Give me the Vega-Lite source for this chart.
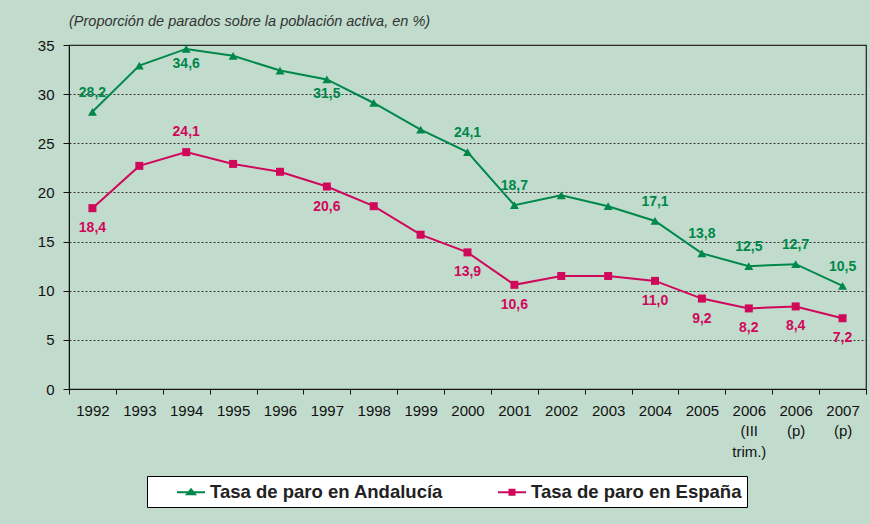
{
  "$schema": "https://vega.github.io/schema/vega-lite/v6.json",
  "width": 797,
  "height": 344,
  "autosize": {"type": "none"},
  "padding": {"left": 69, "top": 45, "right": 4, "bottom": 135},
  "background": "#c1dccd",
  "config": {
    "locale": {"number": {"decimal": ",", "thousands": ".", "grouping": [3], "currency": ["", " €"]}},
    "font": "Liberation Sans",
    "view": {"stroke": "#222", "strokeWidth": 1.2}
  },
  "title": {
    "text": "(Proporción de parados sobre la población activa, en %)",
    "anchor": "start",
    "frame": "group",
    "fontStyle": "italic",
    "fontWeight": "normal",
    "fontSize": 14.5,
    "color": "#333",
    "offset": 9
  },
  "datasets": {
    "paro": [
      {"periodo": "1992", "serie": "Tasa de paro en Andalucía", "tasa": 28.2},
      {"periodo": "1993", "serie": "Tasa de paro en Andalucía", "tasa": 32.9},
      {"periodo": "1994", "serie": "Tasa de paro en Andalucía", "tasa": 34.6},
      {"periodo": "1995", "serie": "Tasa de paro en Andalucía", "tasa": 33.9},
      {"periodo": "1996", "serie": "Tasa de paro en Andalucía", "tasa": 32.4},
      {"periodo": "1997", "serie": "Tasa de paro en Andalucía", "tasa": 31.5},
      {"periodo": "1998", "serie": "Tasa de paro en Andalucía", "tasa": 29.1},
      {"periodo": "1999", "serie": "Tasa de paro en Andalucía", "tasa": 26.4},
      {"periodo": "2000", "serie": "Tasa de paro en Andalucía", "tasa": 24.1},
      {"periodo": "2001", "serie": "Tasa de paro en Andalucía", "tasa": 18.7},
      {"periodo": "2002", "serie": "Tasa de paro en Andalucía", "tasa": 19.7},
      {"periodo": "2003", "serie": "Tasa de paro en Andalucía", "tasa": 18.6},
      {"periodo": "2004", "serie": "Tasa de paro en Andalucía", "tasa": 17.1},
      {"periodo": "2005", "serie": "Tasa de paro en Andalucía", "tasa": 13.8},
      {"periodo": "2006 (III trim.)", "serie": "Tasa de paro en Andalucía", "tasa": 12.5},
      {"periodo": "2006 (p)", "serie": "Tasa de paro en Andalucía", "tasa": 12.7},
      {"periodo": "2007 (p)", "serie": "Tasa de paro en Andalucía", "tasa": 10.5},
      {"periodo": "1992", "serie": "Tasa de paro en España", "tasa": 18.4},
      {"periodo": "1993", "serie": "Tasa de paro en España", "tasa": 22.7},
      {"periodo": "1994", "serie": "Tasa de paro en España", "tasa": 24.1},
      {"periodo": "1995", "serie": "Tasa de paro en España", "tasa": 22.9},
      {"periodo": "1996", "serie": "Tasa de paro en España", "tasa": 22.1},
      {"periodo": "1997", "serie": "Tasa de paro en España", "tasa": 20.6},
      {"periodo": "1998", "serie": "Tasa de paro en España", "tasa": 18.6},
      {"periodo": "1999", "serie": "Tasa de paro en España", "tasa": 15.7},
      {"periodo": "2000", "serie": "Tasa de paro en España", "tasa": 13.9},
      {"periodo": "2001", "serie": "Tasa de paro en España", "tasa": 10.6},
      {"periodo": "2002", "serie": "Tasa de paro en España", "tasa": 11.5},
      {"periodo": "2003", "serie": "Tasa de paro en España", "tasa": 11.5},
      {"periodo": "2004", "serie": "Tasa de paro en España", "tasa": 11.0},
      {"periodo": "2005", "serie": "Tasa de paro en España", "tasa": 9.2},
      {"periodo": "2006 (III trim.)", "serie": "Tasa de paro en España", "tasa": 8.2},
      {"periodo": "2006 (p)", "serie": "Tasa de paro en España", "tasa": 8.4},
      {"periodo": "2007 (p)", "serie": "Tasa de paro en España", "tasa": 7.2}
    ]
  },
  "data": {"name": "paro"},
  "encoding": {
    "x": {
      "field": "periodo",
      "type": "ordinal",
      "sort": ["1992","1993","1994","1995","1996","1997","1998","1999","2000","2001","2002","2003","2004","2005","2006 (III trim.)","2006 (p)","2007 (p)"],
      "bandPosition": 0.5,
      "scale": {"type": "band", "paddingInner": 0, "paddingOuter": 0},
      "axis": {
        "title": null,
        "tickBand": "extent",
        "labelAngle": 0,
        "labelExpr": "split(datum.label, ' ')",
        "labelLineHeight": 20.5,
        "labelBaseline": "top",
        "labelFontSize": 15,
        "labelColor": "#111",
        "domainColor": "#111",
        "tickColor": "#111",
        "tickSize": 5,
        "labelPadding": 9,
        "grid": false
      }
    },
    "y": {
      "field": "tasa",
      "type": "quantitative",
      "scale": {"domain": [0, 35]},
      "axis": {
        "title": null,
        "values": [0, 5, 10, 15, 20, 25, 30, 35],
        "format": "d",
        "labelFontSize": 15,
        "labelColor": "#111",
        "domainColor": "#111",
        "tickColor": "#111",
        "tickSize": 6,
        "labelPadding": 9,
        "gridDash": [2, 2],
        "gridColor": "#333",
        "gridWidth": 1
      }
    },
    "color": {
      "field": "serie",
      "type": "nominal",
      "scale": {"domain": ["Tasa de paro en Andalucía", "Tasa de paro en España"], "range": ["#00884a", "#d0085a"]},
      "legend": {
        "title": null,
        "orient": "none",
        "legendX": 78,
        "legendY": 431,
        "direction": "horizontal",
        "columns": 2,
        "gridAlign": "all",
        "strokeColor": "#000",
        "fillColor": "#fff",
        "padding": 5,
        "symbolSize": 400,
        "symbolOffset": 28,
        "labelOffset": 8,
        "columnPadding": 29,
        "labelFontSize": 18.5,
        "labelFontWeight": "bold",
        "labelColor": "#222",
        "labelLimit": 400,
        "encode": {
          "symbols": {
            "update": {
              "shape": {"signal": "datum.value === 'Tasa de paro en Andalucía' ? 'M-1.4,0L1.4,0M-0.4,0.2L0,-0.3L0.4,0.2Z' : 'M-1.4,0L1.4,0M-0.25,-0.25L0.25,-0.25L0.25,0.25L-0.25,0.25Z'"},
              "stroke": {"scale": "color", "field": "value"},
              "fill": {"scale": "color", "field": "value"},
              "strokeWidth": {"value": 2},
              "opacity": {"value": 1}
            }
          }
        }
      }
    }
  },
  "layer": [
    {"mark": {"type": "line", "strokeWidth": 2}},
    {
      "transform": [{"filter": {"field": "serie", "equal": "Tasa de paro en Andalucía"}}],
      "mark": {"type": "point", "filled": true, "opacity": 1, "size": 80, "shape": "triangle-up"}
    },
    {
      "transform": [{"filter": {"field": "serie", "equal": "Tasa de paro en España"}}],
      "mark": {"type": "point", "filled": true, "opacity": 1, "size": 64, "shape": "square"}
    },
    {
      "transform": [{"filter": {"and": [{"field": "serie", "equal": "Tasa de paro en Andalucía"}, {"field": "periodo", "oneOf": ["1992","2000","2001","2004","2005","2006 (III trim.)","2006 (p)","2007 (p)"]}]}}],
      "mark": {"type": "text", "fontWeight": "bold", "fontSize": 14, "dy": -19},
      "encoding": {"text": {"field": "tasa", "type": "quantitative", "format": ".1f"}}
    },
    {
      "transform": [{"filter": {"and": [{"field": "serie", "equal": "Tasa de paro en Andalucía"}, {"field": "periodo", "oneOf": ["1994","1997"]}]}}],
      "mark": {"type": "text", "fontWeight": "bold", "fontSize": 14, "dy": 15},
      "encoding": {"text": {"field": "tasa", "type": "quantitative", "format": ".1f"}}
    },
    {
      "transform": [{"filter": {"and": [{"field": "serie", "equal": "Tasa de paro en España"}, {"field": "periodo", "oneOf": ["1994"]}]}}],
      "mark": {"type": "text", "fontWeight": "bold", "fontSize": 14, "dy": -20},
      "encoding": {"text": {"field": "tasa", "type": "quantitative", "format": ".1f"}}
    },
    {
      "transform": [{"filter": {"and": [{"field": "serie", "equal": "Tasa de paro en España"}, {"field": "periodo", "oneOf": ["1992","1997","2000","2001","2004","2005","2006 (III trim.)","2006 (p)","2007 (p)"]}]}}],
      "mark": {"type": "text", "fontWeight": "bold", "fontSize": 14, "dy": 20},
      "encoding": {"text": {"field": "tasa", "type": "quantitative", "format": ".1f"}}
    }
  ]
}
